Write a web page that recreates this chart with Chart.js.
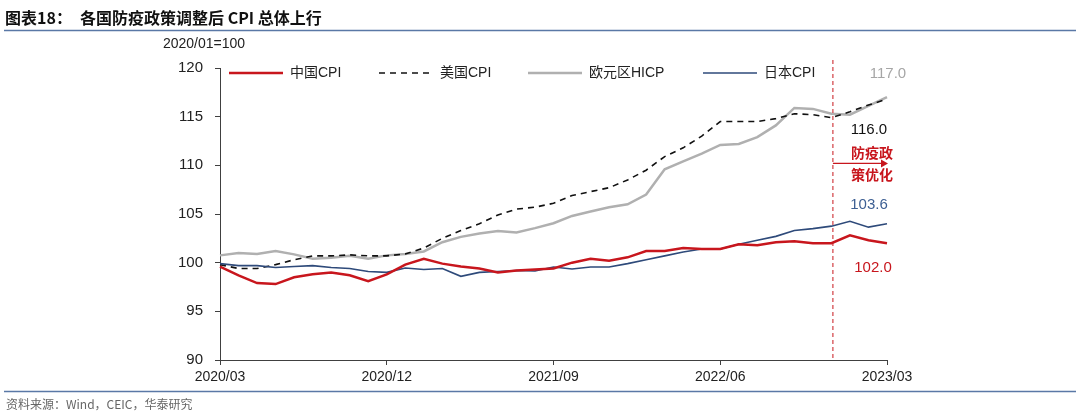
<!DOCTYPE html>
<html>
<head>
<meta charset="utf-8">
<script src="https://cdn.jsdelivr.net/npm/chart.js@4.4.1/dist/chart.umd.min.js"></script>
<style>
    html, body { margin: 0; padding: 0; background: #ffffff; }
    #wrap { position: relative; width: 1080px; height: 414px; }
</style>
</head>
<body>
<div id="wrap"><canvas id="cpiChart" width="1080" height="414"></canvas></div>
<script>
// ====================== DATA ======================
const months = [
    '2020/03', '2020/04', '2020/05', '2020/06', '2020/07', '2020/08', '2020/09', '2020/10', '2020/11', '2020/12',
    '2021/01', '2021/02', '2021/03', '2021/04', '2021/05', '2021/06', '2021/07', '2021/08', '2021/09',
    '2021/10', '2021/11', '2021/12', '2022/01', '2022/02', '2022/03', '2022/04', '2022/05', '2022/06',
    '2022/07', '2022/08', '2022/09', '2022/10', '2022/11', '2022/12', '2023/01', '2023/02', '2023/03'
];
const tickLabels = ['2020/03', '2020/12', '2021/09', '2022/06', '2023/03'];
const yTicks = [90, 95, 100, 105, 110, 115, 120];

const chinaCpi = [99.6, 98.7, 97.9, 97.8, 98.5, 98.8, 99.0, 98.7, 98.1, 98.8, 99.8, 100.4, 99.9, 99.6, 99.4, 99.0, 99.2,
    99.3, 99.4, 100.0, 100.4, 100.2, 100.55, 101.2, 101.2, 101.5, 101.4, 101.4, 101.9, 101.8, 102.1, 102.2, 102.0, 102.0, 102.8, 102.3, 102.0];
const usCpi = [99.8, 99.4, 99.4, 99.8, 100.3, 100.7, 100.7, 100.8, 100.7, 100.7, 100.9, 101.5,
    102.5, 103.3, 104.0, 104.9, 105.5, 105.7, 106.1, 106.9, 107.3, 107.7, 108.5, 109.5, 110.9, 111.8,
    113.0, 114.5, 114.5, 114.5, 114.8, 115.3, 115.2, 114.9, 115.5, 116.2, 116.8];
const euroHicp = [100.75, 101.0, 100.9, 101.2, 100.85, 100.4, 100.5, 100.7, 100.4, 100.75, 100.9, 101.15, 102.1, 102.65, 103.0, 103.25, 103.1,
    103.55, 104.05, 104.8, 105.25, 105.7, 106.0, 107.0, 109.6, 110.4,
    111.2, 112.1, 112.2, 112.9, 114.1, 115.9, 115.8, 115.3, 115.2, 116.1, 117.0];
const japanCpi = [99.9, 99.7, 99.7, 99.5, 99.6, 99.7, 99.5, 99.4, 99.1, 99.0, 99.45, 99.3, 99.4, 98.6, 99.0, 99.1, 99.2,
    99.15, 99.55, 99.35, 99.55, 99.55, 99.9, 100.3, 100.7, 101.1, 101.4, 101.4, 101.9, 102.3, 102.7, 103.3, 103.5, 103.75, 104.25, 103.65, 104.0];

// policy change month and end-of-line labels
const policyMonth = '2022/12';
const endLabels = [
    { text: '117.0', value: 119.4, dx: 1, color: '#a6a6a6' },
    { text: '116.0', value: 113.6, dx: -18, color: '#111111' },
    { text: '103.6', value: 105.9, dx: -18, color: '#3d5f93' },
    { text: '102.0', value: 99.5, dx: -14, color: '#c8161d' }
];

// ====================== STYLE ======================
const RED = '#c8161d';
const NAVY = '#2e4a7a';
const GRAY = '#b0b0b0';
const AXIS = '#404040';
const LATIN = '"Liberation Sans", Arial, "Noto Sans CJK SC", sans-serif';
const CJK = '"Noto Sans CJK SC", "Liberation Sans", sans-serif';

// legend, title, annotations
const decorPlugin = {
    id: 'decor',
    afterDraw(chart) {
        const ctx = chart.ctx;
        const xs = chart.scales.x;
        const ys = chart.scales.y;
        ctx.save();

        // title + rules
        ctx.fillStyle = '#111';
        ctx.textBaseline = 'middle';
        ctx.textAlign = 'left';
        ctx.font = 'bold 16px ' + CJK;
        ctx.fillText('图表18：', 5, 18);
        ctx.fillText('各国防疫政策调整后 CPI 总体上行', 80, 18);
        ctx.strokeStyle = '#5a78a6';
        ctx.lineWidth = 1.5;
        ctx.beginPath(); ctx.moveTo(4, 30.5); ctx.lineTo(1076, 30.5); ctx.stroke();
        ctx.beginPath(); ctx.moveTo(4, 391.5); ctx.lineTo(1076, 391.5); ctx.stroke();

        ctx.fillStyle = '#666';
        ctx.font = '12px ' + CJK;
        ctx.fillText('资料来源：Wind，CEIC，华泰研究', 6, 404);

        ctx.fillStyle = '#222';
        ctx.font = '14px ' + LATIN;
        ctx.textAlign = 'center';
        ctx.fillText('2020/01=100', 204, 44);

        // legend
        const items = [
            { label: '中国CPI', color: RED, width: 2.5, dash: [], x: 229 },
            { label: '美国CPI', color: '#111', width: 1.6, dash: [6, 5], x: 379 },
            { label: '欧元区HICP', color: GRAY, width: 2.5, dash: [], x: 528 },
            { label: '日本CPI', color: NAVY, width: 1.6, dash: [], x: 703 }
        ];
        ctx.textAlign = 'left';
        ctx.font = '14px ' + LATIN;
        items.forEach(it => {
            ctx.strokeStyle = it.color;
            ctx.lineWidth = it.width;
            ctx.setLineDash(it.dash);
            ctx.beginPath(); ctx.moveTo(it.x, 73); ctx.lineTo(it.x + 54, 73); ctx.stroke();
            ctx.setLineDash([]);
            ctx.fillStyle = '#222';
            ctx.fillText(it.label, it.x + 61, 73);
        });

        // policy line and arrow
        const px = xs.getPixelForValue(months.indexOf(policyMonth)) + 1.5;
        ctx.strokeStyle = RED;
        ctx.lineWidth = 1;
        ctx.setLineDash([4, 3]);
        ctx.beginPath(); ctx.moveTo(px, 60); ctx.lineTo(px, ys.bottom); ctx.stroke();
        ctx.setLineDash([]);
        const ay = ys.getPixelForValue(110.2);
        const ax2 = xs.right + 1;

        ctx.fillStyle = RED;
        ctx.font = 'bold 14px ' + CJK;
        ctx.textAlign = 'center';
        ctx.fillText('防疫政', 872, ay - 11);
        ctx.fillText('策优化', 872, ay + 11);

        ctx.lineWidth = 1.2;
        ctx.beginPath(); ctx.moveTo(px, ay); ctx.lineTo(ax2 - 5, ay); ctx.stroke();
        ctx.beginPath();
        ctx.moveTo(ax2, ay); ctx.lineTo(ax2 - 7, ay - 4); ctx.lineTo(ax2 - 7, ay + 4);
        ctx.closePath(); ctx.fill();

        // end labels
        ctx.font = '15px ' + LATIN;
        const lastX = xs.getPixelForValue(months.length - 1);
        endLabels.forEach(l => {
            ctx.fillStyle = l.color;
            ctx.fillText(l.text, lastX + l.dx, ys.getPixelForValue(l.value));
        });

        ctx.restore();
    }
};

// ====================== CHART ======================
const lineSet = (label, data, color, width, dash) => ({
    label,
    data,
    borderColor: color,
    backgroundColor: color,
    borderWidth: width,
    borderDash: dash,
    pointRadius: 0,
    tension: 0,
    fill: false
});

new Chart(document.getElementById('cpiChart').getContext('2d'), {
    type: 'line',
    data: {
        labels: months,
        datasets: [
            lineSet('中国CPI', chinaCpi, RED, 2.5, []),
            lineSet('日本CPI', japanCpi, NAVY, 1.6, []),
            lineSet('美国CPI', usCpi, '#111111', 1.6, [6, 5]),
            lineSet('欧元区HICP', euroHicp, GRAY, 2.5, [])
        ]
    },
    options: {
        responsive: false,
        animation: false,
        devicePixelRatio: 1,
        layout: { padding: { left: 160, right: 193, top: 68, bottom: 24 } },
        plugins: {
            legend: { display: false },
            tooltip: { enabled: false }
        },
        scales: {
            x: {
                type: 'category',
                offset: false,
                afterFit: (s) => { s.height = 30; },
                border: { display: true, color: AXIS, width: 1 },
                grid: { display: true, drawOnChartArea: false, drawTicks: true, tickLength: 5, color: AXIS },
                ticks: {
                    autoSkip: false,
                    maxRotation: 0,
                    padding: 4,
                    color: '#222',
                    font: { family: LATIN, size: 14 },
                    callback: (v, i) => tickLabels.includes(months[i]) ? months[i] : null
                }
            },
            y: {
                min: 90,
                max: 120,
                afterFit: (s) => { s.width = 60; },
                afterBuildTicks: (s) => { s.ticks = yTicks.map(v => ({ value: v })); },
                border: { display: true, color: AXIS, width: 1 },
                grid: { display: true, drawOnChartArea: false, drawTicks: true, tickLength: 5, color: AXIS },
                ticks: {
                    padding: 12,
                    color: '#222',
                    font: { family: LATIN, size: 15 }
                }
            }
        }
    },
    plugins: [decorPlugin]
});
</script>
</body>
</html>
